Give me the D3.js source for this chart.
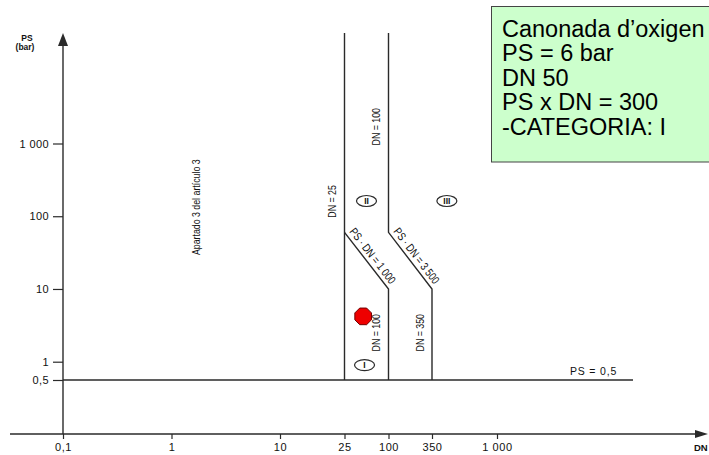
<!DOCTYPE html>
<html><head><meta charset="utf-8">
<script src="https://cdn.jsdelivr.net/npm/d3@7"></script>
<style>
html,body{margin:0;padding:0;background:#fff;}
svg{display:block;}
</style></head>
<body>
<svg id="chart" width="709" height="455"></svg>
<script>
// ---- DATA ----
const xTicks = [0.1, 1, 10, 25, 100, 350, 1000];
const xTickLabels = ["0,1", "1", "10", "25", "100", "350", "1 000"];
const yTicks = [0.5, 1, 10, 100, 1000];
const yTickLabels = ["0,5", "1", "10", "100", "1 000"];
// schematic (non-uniform) breakpoints of the original drawing
const xBreaks = [0.1, 10, 25, 100, 350, 1000];
const yBreaks = [0.5, 1, 1000];
// boundary lines as [DN, PS]
const lineDN25 = [[25, 33000], [25, 0.5]];
const linePSDN1000 = [[25, 60], [100, 10], [100, 0.5]];
const linePSDN3500 = [[100, 33000], [100, 60], [350, 10], [350, 0.5]];
const linePS05 = [[0.1, 0.5], [9000, 0.5]];
// region numerals
const regionLabels = ["I", "II", "III"];
const regionDN = [47, 50, 445];
const regionPS = [0.88, 162, 162];
// vertical labels [text, DN of line, PS at centre]
const vLabelText = ["DN = 25", "DN = 100", "DN = 100", "DN = 350"];
const vLabelDN = [25, 100, 100, 350];
const vLabelPS = [160, 1700, 2.5, 2.5];
// the operating point
const pointDN = [45];
const pointPS = [4.2];
const infoLines = ["Canonada d\u2019oxigen", "PS = 6 bar", "DN 50", "PS x DN = 300", "-CATEGORIA: I"];

// ---- LAYOUT ----
const svg = d3.select("#chart");
const xLin = d3.scaleLinear().domain(xBreaks.map(Math.log10)).range([63, 280, 344.5, 388.5, 432, 497]);
const yLin = d3.scaleLinear().domain(yBreaks.map(Math.log10)).range([380, 361.7, 143.5]);
const x = d => xLin(Math.log10(d));
const y = d => yLin(Math.log10(d));
const axisY = 434, axisX = 63;
const ink = "#2a2a2a";
const font = "'Liberation Sans', Arial, Helvetica, sans-serif";
const condense = 0.8;

// x axis
const gx = svg.append("g").attr("transform", `translate(0,${axisY})`)
  .call(d3.axisBottom(xLin).tickValues(xTicks.map(Math.log10))
    .tickFormat((d, i) => xTickLabels[i]).tickSizeInner(5).tickSizeOuter(0).tickPadding(4));
gx.select(".domain").remove();
gx.selectAll("line").attr("stroke", ink).attr("stroke-width", 1.2);
gx.selectAll("text").attr("font-family", font).attr("font-size", 11).attr("fill", "#111")
  .attr("letter-spacing", 0.6);
svg.append("line").attr("x1", 10).attr("x2", 698).attr("y1", axisY).attr("y2", axisY)
  .attr("stroke", ink).attr("stroke-width", 1.4);
svg.append("path").attr("d", `M695,${axisY - 4}L708,${axisY}L695,${axisY + 4}Z`).attr("fill", ink);
svg.append("text").attr("x", 694).attr("y", 451).text("DN")
  .attr("font-family", font).attr("font-size", 9.5).attr("font-weight", "bold").attr("fill", "#111");

// y axis
const gy = svg.append("g").attr("transform", `translate(${axisX},0)`)
  .call(d3.axisLeft(yLin).tickValues(yTicks.map(Math.log10))
    .tickFormat((d, i) => yTickLabels[i]).tickSizeInner(10).tickSizeOuter(0).tickPadding(4));
gy.select(".domain").remove();
gy.selectAll("line").attr("stroke", ink).attr("stroke-width", 1.2);
gy.selectAll("text").attr("font-family", font).attr("font-size", 11).attr("fill", "#111")
  .attr("letter-spacing", 0.4);
svg.append("line").attr("x1", axisX).attr("x2", axisX).attr("y1", 42).attr("y2", axisY)
  .attr("stroke", ink).attr("stroke-width", 1.4);
svg.append("path").attr("d", `M${axisX - 5},46L${axisX},33L${axisX + 5},46Z`).attr("fill", ink);
svg.append("text").attr("x", 27).attr("y", 40.5).attr("text-anchor", "middle").text("PS")
  .attr("font-family", font).attr("font-size", 8.5).attr("font-weight", "bold").attr("fill", "#111");
svg.append("text").attr("x", 25).attr("y", 49.5).attr("text-anchor", "middle").text("(bar)")
  .attr("font-family", font).attr("font-size", 8.5).attr("font-weight", "bold").attr("fill", "#111");

// boundary lines
const line = d3.line().x(d => x(d[0])).y(d => y(d[1]));
[linePS05, lineDN25, linePSDN1000, linePSDN3500].forEach(pts => {
  svg.append("path").attr("d", line(pts)).attr("fill", "none")
    .attr("stroke", ink).attr("stroke-width", 1.4);
});

// diagonal labels
function diagLabel(pts, txt) {
  const x1 = x(pts[0][0]), y1 = y(pts[0][1]), x2 = x(pts[1][0]), y2 = y(pts[1][1]);
  const ang = Math.atan2(y2 - y1, x2 - x1);
  const mx = (x1 + x2) / 2 + Math.sin(ang) * 8, my = (y1 + y2) / 2 - Math.cos(ang) * 8;
  svg.append("text").attr("transform", `translate(${mx},${my}) rotate(${ang * 180 / Math.PI}) scale(${condense},1)`)
    .attr("text-anchor", "middle").attr("dy", "0.35em").text(txt)
    .attr("font-family", font).attr("font-size", 11.5).attr("fill", "#111");
}
diagLabel(linePSDN1000.slice(0, 2), "PS \u00b7 DN = 1 000");
diagLabel(linePSDN3500.slice(1, 3), "PS \u00b7 DN = 3 500");

// vertical labels
vLabelText.forEach((t, i) => {
  svg.append("text").attr("transform", `translate(${x(vLabelDN[i]) - 12},${y(vLabelPS[i])}) rotate(-90) scale(${condense},1)`)
    .attr("text-anchor", "middle").attr("dy", "0.35em").text(t)
    .attr("font-family", font).attr("font-size", 11).attr("fill", "#111");
});
svg.append("text").attr("transform", `translate(${x(1.7)},${y(133)}) rotate(-90) scale(${condense},1)`)
  .attr("text-anchor", "middle").attr("dy", "0.35em").text("Apartado 3 del artículo 3")
  .attr("font-family", font).attr("font-size", 11).attr("fill", "#111");
svg.append("text").attr("x", x(9000) - 16).attr("y", y(0.5) - 5).attr("text-anchor", "end")
  .text("PS = 0,5").attr("font-family", font).attr("font-size", 10.5).attr("letter-spacing", 0.8)
  .attr("fill", "#111");

// circled numerals
regionLabels.forEach((t, i) => {
  const g = svg.append("g").attr("transform", `translate(${x(regionDN[i])},${y(regionPS[i])})`);
  g.append("ellipse").attr("rx", 10).attr("ry", 5.5).attr("fill", "none")
    .attr("stroke", ink).attr("stroke-width", 1.2);
  g.append("text").attr("text-anchor", "middle").attr("dy", "0.36em").text(t)
    .attr("font-family", font).attr("font-size", 8.5).attr("font-weight", "bold").attr("fill", "#111");
});

// operating point (octagon)
pointDN.forEach((dn, i) => {
  const cx = x(dn), cy = y(pointPS[i]), r = 9;
  const pts = d3.range(8).map(k => {
    const a = Math.PI / 8 + k * Math.PI / 4;
    return [cx + r * Math.cos(a), cy + r * Math.sin(a)];
  });
  svg.append("path").attr("d", "M" + pts.join("L") + "Z")
    .attr("fill", "#ee0000").attr("stroke", "#700000").attr("stroke-width", 1);
});

// info box
svg.append("rect").attr("x", 491.5).attr("y", 6.5).attr("width", 230).attr("height", 155.5)
  .attr("fill", "#ccffcc").attr("stroke", "#444").attr("stroke-width", 1);
infoLines.forEach((t, i) => {
  svg.append("text").attr("x", 502).attr("y", 36.5 + i * 24.6).text(t)
    .attr("font-family", font).attr("font-size", 23.5).attr("fill", "#000");
});
</script>
</body></html>
